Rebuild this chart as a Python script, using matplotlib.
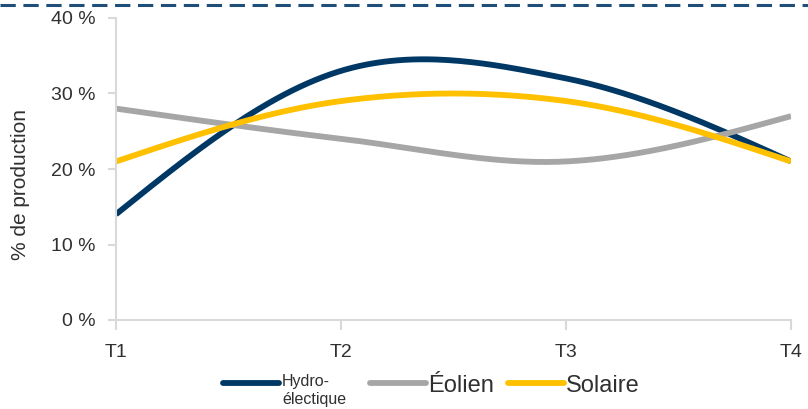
import matplotlib
matplotlib.use("Agg")
import matplotlib.pyplot as plt
import numpy as np
from matplotlib.lines import Line2D

plt.rcParams['font.family'] = ['Liberation Sans', 'DejaVu Sans']

periodes = ["T1", "T2", "T3", "T4"]
hydro = [14, 33, 32, 21]
eolien = [28, 24, 21, 27]
solaire = [21, 29, 29, 21]
noms = ["Hydro-\nélectique", "Éolien", "Solaire"]
couleurs = ["#003865", "#a6a6a6", "#ffc000"]


def lissage(y, n=60):
    # courbe lissee facon Excel (Hermite, extremites "naturelles")
    y = np.asarray(y, dtype=float)
    k = len(y)
    m = np.zeros(k)
    m[1:-1] = (y[2:] - y[:-2]) / 2
    m[0] = (3 * (y[1] - y[0]) - m[1]) / 2
    m[-1] = (3 * (y[-1] - y[-2]) - m[-2]) / 2
    xs, ys = [], []
    t = np.linspace(0, 1, n)
    h00 = 2 * t**3 - 3 * t**2 + 1
    h10 = t**3 - 2 * t**2 + t
    h01 = -2 * t**3 + 3 * t**2
    h11 = t**3 - t**2
    for i in range(k - 1):
        xs.append(i + t)
        ys.append(h00 * y[i] + h10 * m[i] + h01 * y[i + 1] + h11 * m[i + 1])
    return np.concatenate(xs), np.concatenate(ys)


W, H = 808, 409
fig = plt.figure(figsize=(W / 100, H / 100), dpi=100)
ax = fig.add_axes([116 / W, 1 - 320 / H, 675 / W, 302 / H])

for serie, coul, nom in zip([hydro, eolien, solaire], couleurs, noms):
    x, y = lissage(serie)
    ax.plot(x, y, color=coul, lw=4.2, label=nom, solid_capstyle="butt")

ax.set_xlim(0, 3)
ax.set_ylim(0, 40)
ax.set_xticks(range(4))
ax.set_xticklabels(periodes, fontsize=14, color="#303030")
ax.set_yticks([0, 10, 20, 30, 40])
ax.set_yticklabels([f"{v} %" for v in [0, 10, 20, 30, 40]], fontsize=14, color="#303030")
for s in ["top", "right"]:
    ax.spines[s].set_visible(False)
for s in ["left", "bottom"]:
    ax.spines[s].set_color("#d9d9d9")
    ax.spines[s].set_linewidth(1.5)
ax.tick_params(axis="y", color="#d9d9d9", length=6, width=1.5, pad=9)
ax.tick_params(axis="x", color="#d9d9d9", length=7, width=1.5, pad=10)
ax.set_ylabel("% de production", fontsize=15, color="#303030")
ax.yaxis.set_label_coords(-0.127, 0.45)

fig.add_artist(Line2D([0, 1], [1 - 5 / H, 1 - 5 / H], transform=fig.transFigure,
                      color="#1f4e79", lw=2.2, linestyle=(0, (5, 2.5))))

# legende manuelle en bas
leg_x = [223, 370, 508]
leg_y = 1 - 383 / H
tailles = [11.5, 17, 17]
for x0, coul, nom, taille in zip(leg_x, couleurs, noms, tailles):
    fig.add_artist(Line2D([x0 / W, (x0 + 56) / W], [leg_y, leg_y], transform=fig.transFigure,
                          color=coul, lw=4.2, solid_capstyle="round"))
    if "\n" in nom:
        fig.text((x0 + 59) / W, leg_y + 9 / H, nom, fontsize=taille, color="#303030",
                 ha="left", va="top", linespacing=1.25)
    else:
        fig.text((x0 + 58) / W, leg_y, nom, fontsize=taille, color="#303030",
                 ha="left", va="center_baseline")

fig.savefig("out.png", dpi=100)
